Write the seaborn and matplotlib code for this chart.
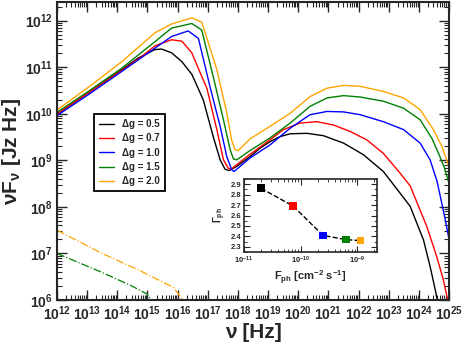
import matplotlib
matplotlib.use('Agg')
import matplotlib.pyplot as plt
import seaborn as sns
import numpy as np
import pandas as pd
from matplotlib.ticker import LogLocator, MultipleLocator, NullFormatter, FormatStrFormatter

# log10(nu [Hz]) and log10(nuF_nu [Jz Hz])
black_lognu = [12.0, 13.04, 14.15, 14.70, 15.25, 15.47, 15.80, 16.14, 16.47, 16.85, 17.18, 17.41, 17.57,
               17.71, 17.96, 18.40, 18.73, 19.06, 19.40, 19.73, 20.28, 20.83, 21.50, 22.16, 22.82,
               23.38, 23.71, 24.15, 24.37, 24.54, 24.65]
black_logf = [9.99, 10.45, 10.95, 11.20, 11.38, 11.39, 11.31, 11.12, 10.85, 10.30, 9.51, 9.01, 8.81,
              8.78, 8.87, 9.08, 9.26, 9.40, 9.51, 9.57, 9.58, 9.53, 9.37, 9.12, 8.76,
              8.29, 8.01, 7.29, 6.72, 6.22, 5.85]

red_lognu = [12.0, 13.04, 14.15, 14.81, 15.25, 15.80, 16.14, 16.47, 16.80, 16.97, 17.30, 17.52, 17.68,
             17.77, 18.40, 19.06, 19.51, 20.06, 20.61, 21.16, 21.72, 22.27, 22.82, 23.38, 23.71,
             24.26, 24.59, 24.81, 24.93, 25.0]
red_logf = [10.0, 10.45, 10.93, 11.23, 11.46, 11.59, 11.56, 11.31, 10.80, 10.55, 9.66, 9.01, 8.83,
            8.81, 9.13, 9.44, 9.66, 9.80, 9.83, 9.76, 9.62, 9.44, 9.15, 8.72, 8.45,
            7.58, 6.93, 6.43, 6.07, 5.85]

blue_lognu = [12.0, 13.04, 14.15, 15.25, 15.80, 16.35, 16.69, 17.07, 17.41, 17.63, 17.79, 17.87,
              18.40, 19.06, 19.73, 20.39, 20.95, 21.50, 22.05, 22.82, 23.49, 24.04, 24.37, 24.60,
              24.75, 24.88, 25.0]
blue_logf = [9.96, 10.41, 10.91, 11.41, 11.66, 11.78, 11.62, 10.59, 9.73, 9.08, 8.80, 8.76,
             9.05, 9.33, 9.69, 9.98, 10.05, 10.04, 9.98, 9.83, 9.66, 9.37, 9.01, 8.55,
             8.10, 7.70, 7.30]

green_lognu = [12.0, 13.04, 14.15, 15.25, 15.80, 16.47, 16.80, 17.18, 17.52, 17.74, 17.85, 17.96,
               18.40, 19.06, 19.73, 20.39, 20.95, 21.50, 22.05, 22.82, 23.49, 24.04, 24.43, 24.65,
               24.84, 25.0]
green_logf = [10.03, 10.48, 10.98, 11.55, 11.84, 11.94, 11.80, 10.80, 9.87, 9.23, 9.03, 9.01,
              9.21, 9.48, 9.80, 10.16, 10.34, 10.39, 10.36, 10.27, 10.12, 9.87, 9.47, 9.15,
              8.85, 8.50]

orange_lognu = [12.0, 13.04, 14.15, 15.25, 15.80, 16.47, 16.80, 17.30, 17.63, 17.79, 17.90, 18.01,
                18.40, 19.06, 19.73, 20.39, 20.95, 21.50, 22.05, 22.82, 23.49, 24.04, 24.48, 24.76, 25.0]
orange_logf = [10.08, 10.57, 11.12, 11.74, 11.93, 12.06, 11.97, 10.95, 10.02, 9.44, 9.23, 9.21,
               9.46, 9.73, 10.01, 10.37, 10.55, 10.61, 10.59, 10.48, 10.34, 10.09, 9.66, 9.30, 8.85]

# dash-dot components
orange_dd_lognu = [12.0, 13.43, 14.75, 15.86, 16.19]
orange_dd_logf = [7.50, 7.02, 6.63, 6.27, 5.99]
green_dd_lognu = [12.0, 13.43, 14.42, 14.98, 15.14]
green_dd_logf = [7.00, 6.61, 6.32, 6.13, 5.99]

labels = ['Δg = 0.5', 'Δg = 0.7', 'Δg = 1.0', 'Δg = 1.5', 'Δg = 2.0']
colors = ['black', 'red', 'blue', 'green', 'orange']

# inset: photon flux vs photon index
fph = [2.0e-11, 7.4e-11, 2.5e-10, 6.3e-10, 1.15e-9]
gamma_ph = [2.86, 2.69, 2.41, 2.37, 2.36]

sns.set_style('ticks')
plt.rcParams['font.family'] = ['Liberation Sans', 'DejaVu Sans']
plt.rcParams['font.weight'] = 'bold'
plt.rcParams['axes.labelweight'] = 'bold'
plt.rcParams['mathtext.default'] = 'regular'

curves = [(black_lognu, black_logf), (red_lognu, red_logf), (blue_lognu, blue_logf),
          (green_lognu, green_logf), (orange_lognu, orange_logf)]
frames = []
for lab, (lx, ly) in zip(labels, curves):
    frames.append(pd.DataFrame({'nu': 10 ** np.array(lx), 'nuFnu': 10 ** np.array(ly), 'dg': lab}))
sed = pd.concat(frames, ignore_index=True)

fig = plt.figure(figsize=(4.63, 3.44), dpi=100)
ax = fig.add_axes([0.123, 0.128, 0.847, 0.866])

sns.lineplot(data=sed, x='nu', y='nuFnu', hue='dg', hue_order=labels, palette=colors,
             sort=False, estimator=None, lw=1.0, ax=ax)
sns.lineplot(x=10 ** np.array(orange_dd_lognu), y=10 ** np.array(orange_dd_logf), color='orange',
             linestyle='-.', lw=0.9, sort=False, estimator=None, ax=ax)
sns.lineplot(x=10 ** np.array(green_dd_lognu), y=10 ** np.array(green_dd_logf), color='green',
             linestyle='-.', lw=0.9, sort=False, estimator=None, ax=ax)

ax.set_xscale('log')
ax.set_yscale('log')
ax.set_xlim(1e12, 1e25)
ax.set_ylim(1e6, 10 ** 12.4)
ax.set_xticks([10.0 ** k for k in range(12, 26)])
ax.set_yticks([10.0 ** k for k in range(6, 13)])
ax.xaxis.set_minor_locator(LogLocator(base=10, subs=np.arange(2, 10), numticks=300))
ax.yaxis.set_minor_locator(LogLocator(base=10, subs=np.arange(2, 10), numticks=300))
ax.xaxis.set_minor_formatter(NullFormatter())
ax.yaxis.set_minor_formatter(NullFormatter())
ax.tick_params(which='both', direction='in', top=True, right=True, labelsize=10, pad=3)
ax.tick_params(which='major', length=7, width=1.0)
ax.tick_params(which='minor', length=3.5, width=0.8)
for t in ax.get_xticklabels() + ax.get_yticklabels():
    t.set_fontweight('bold')
for s in ax.spines.values():
    s.set_linewidth(1.5)
ax.set_xlabel('ν [Hz]', fontsize=15, fontweight='bold', labelpad=0)
ax.set_ylabel('νF$_{ν}$ [Jz Hz]', fontsize=15, fontweight='bold', labelpad=1)

handles, _ = ax.get_legend_handles_labels()
leg = ax.legend(handles[:5], labels, loc='upper left', bbox_to_anchor=(0.094, 0.624),
                borderaxespad=0, frameon=True, fancybox=False, framealpha=1,
                prop={'size': 7, 'weight': 'bold'},
                edgecolor='black', handlelength=1.6, labelspacing=0.45, borderpad=0.5)
leg.get_frame().set_linewidth(1.3)

# inset
axin = fig.add_axes([0.527, 0.267, 0.287, 0.213])
sns.lineplot(x=fph, y=gamma_ph, color='black', linestyle='--', lw=1.0, ax=axin)
sns.scatterplot(x=fph, y=gamma_ph, hue=labels, palette=colors, marker='s', s=30,
                edgecolor='none', legend=False, ax=axin, zorder=3)
axin.set_xscale('log')
axin.set_xlim(1e-11, 10 ** -8.65)
axin.set_ylim(2.25, 2.95)
axin.set_xticks([1e-11, 1e-10, 1e-9])
axin.xaxis.set_minor_locator(LogLocator(base=10, subs=np.arange(2, 10), numticks=100))
axin.xaxis.set_minor_formatter(NullFormatter())
axin.yaxis.set_major_locator(MultipleLocator(0.1))
axin.yaxis.set_minor_locator(MultipleLocator(0.05))
axin.yaxis.set_major_formatter(FormatStrFormatter('%.1f'))
axin.tick_params(which='both', direction='in', top=True, right=True, labelsize=5.5, pad=2)
axin.tick_params(which='major', length=4, width=0.8)
axin.tick_params(which='minor', length=2, width=0.6)
for t in axin.get_xticklabels() + axin.get_yticklabels():
    t.set_fontweight('bold')
for s in axin.spines.values():
    s.set_linewidth(1.2)
axin.set_xlabel('F$_{ph}$ [cm$^{-2}$ s$^{-1}$]', fontsize=8, fontweight='bold', labelpad=2)
axin.set_ylabel('Γ$_{ph}$', fontsize=7, fontweight='bold', labelpad=2)

fig.savefig('out.png', dpi=100)
